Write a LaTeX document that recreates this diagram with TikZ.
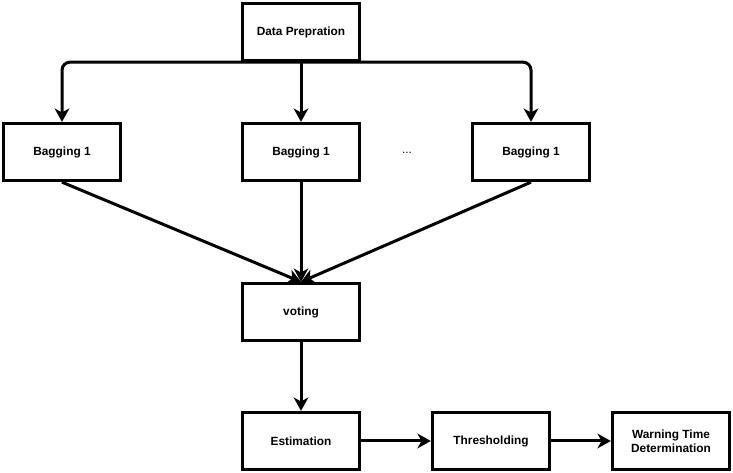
\documentclass[tikz,border=0pt]{standalone}
\usepackage{fontspec}
\setmainfont{Liberation Sans}
\usetikzlibrary{arrows.meta}
\begin{document}
\begin{tikzpicture}[x=0.75pt,y=-0.75pt,
  box/.style={draw, line width=2.25pt, minimum width=88pt, minimum height=43pt, inner sep=0pt, align=center, font=\bfseries\fontsize{8.9}{10.5}\selectfont},
  arr/.style={line width=2.25pt, -{Stealth[length=10pt,width=11pt,inset=3pt]}}]
\useasboundingbox (0,0) rectangle (733,473);
% boxes
\node[box] (prep) at (301,32) {Data Prepration};
\node[box] (bagA) at (62,152) {Bagging 1};
\node[box] (bagB) at (301,152) {Bagging 1};
\node[box] (bagC) at (531,152) {Bagging 1};
\node[font=\fontsize{8.9}{10}\selectfont] (dots) at (407,153) {...};
\node[box] (vote) at (301,312) {voting};
\node[box] (est) at (301,441) {Estimation};
\node[box] (thr) at (491,441) {Thresholding};
\node[box] (warn) at (671,441) {Warning Time\\Determination};
% connectors
\draw[arr] (prep) -- (bagB);
\draw[arr, rounded corners=6pt] (prep.south) -| (bagA.north);
\draw[arr, rounded corners=6pt] (prep.south) -| (bagC.north);
\foreach \b in {bagA,bagB,bagC} \draw[arr] (\b.south) -- (vote.north);
\draw[arr] (vote) -- (est);
\draw[arr] (est) -- (thr);
\draw[arr] (thr) -- (warn);
\end{tikzpicture}
\end{document}
